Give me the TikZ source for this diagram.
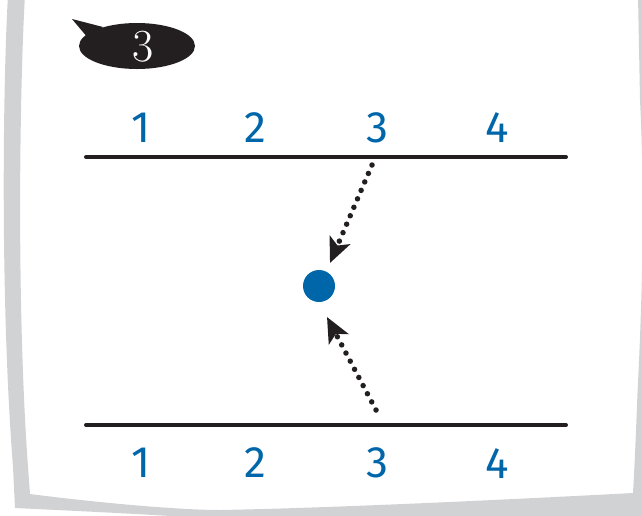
\documentclass[tikz,border=0pt]{standalone}
\usepackage{fontspec}
\newfontfamily\numfont{Fira Sans}
\usetikzlibrary{arrows.meta,shapes.geometric}
\definecolor{frame}{HTML}{D1D2D4}
\definecolor{ink}{HTML}{231F20}
\definecolor{pblue}{HTML}{0066AA}
\tikzset{
  rule/.style={draw=ink, line width=4pt, line cap=round},
  digit/.style={text=pblue, font=\numfont\fontsize{44}{44}\selectfont, inner sep=0pt},
  dotarrow/.style={draw=ink, line width=5.5pt, line cap=round, dash pattern=on 0pt off 9.2pt,
    -{Stealth[length=25pt,width=22pt,inset=6pt,fill=ink]}},
}
\begin{document}
\begin{tikzpicture}[x=1pt,y=-1pt]
\useasboundingbox (0,0) rectangle (642,515);
\begin{scope}
\clip (0,0) rectangle (642,515);
% gray frame
\fill[frame, even odd rule]
  (8,-5) .. controls (3,80) and (0,300) .. (13,467) -- (15,508)
  .. controls (100,512) and (180,516) .. (230,520) -- (660,520) -- (660,-5) -- cycle
  (25,-5) .. controls (20,80) and (16,300) .. (28,467) -- (30,494)
  .. controls (100,503) and (180,510) .. (220,510)
  .. controls (330,508) and (500,500) .. (633,493)
  .. controls (636,440) and (637,400) .. (638,383)
  .. controls (642,300) and (645,200) .. (640,100) -- (638,-5) -- cycle;
\end{scope}
% speech bubble
\fill[ink] (72,19) -- (103,27) -- (88,38) -- cycle;
\node[ellipse, fill=ink, minimum width=116pt, minimum height=46pt, inner sep=0pt] (bubble) at (137,46) {};
\node[text=white, font=\fontsize{46}{46}\selectfont, inner sep=0pt] (bnum) at (143,47) {3};
% lines
\coordinate (tl) at (86,157);
\coordinate (tr) at (566,157);
\coordinate (bl) at (86,425);
\coordinate (br) at (566,425);
\draw[rule] (tl) -- (tr);
\draw[rule] (bl) -- (br);
% digits
\node[digit] (t1) at (141,128) {1};
\node[digit] (t2) at (255,128) {2};
\node[digit] (t3) at (377,128) {3};
\node[digit] (t4) at (497,128) {4};
\node[digit] (b1) at (141,463) {1};
\node[digit] (b2) at (255,463) {2};
\node[digit] (b3) at (377,463) {3};
\node[digit] (b4) at (497,464) {4};
% dot
\node[circle, fill=pblue, minimum size=32pt, inner sep=0pt, outer sep=0pt] (dot) at (319,286) {};
\coordinate (s1) at (372,165);
\coordinate (e1) at (330,263);
\coordinate (s2) at (376,410);
\coordinate (e2) at (327,317);
\draw[dotarrow] (s1) -- (e1);
\draw[dotarrow] (s2) -- (e2);
\end{tikzpicture}
\end{document}
